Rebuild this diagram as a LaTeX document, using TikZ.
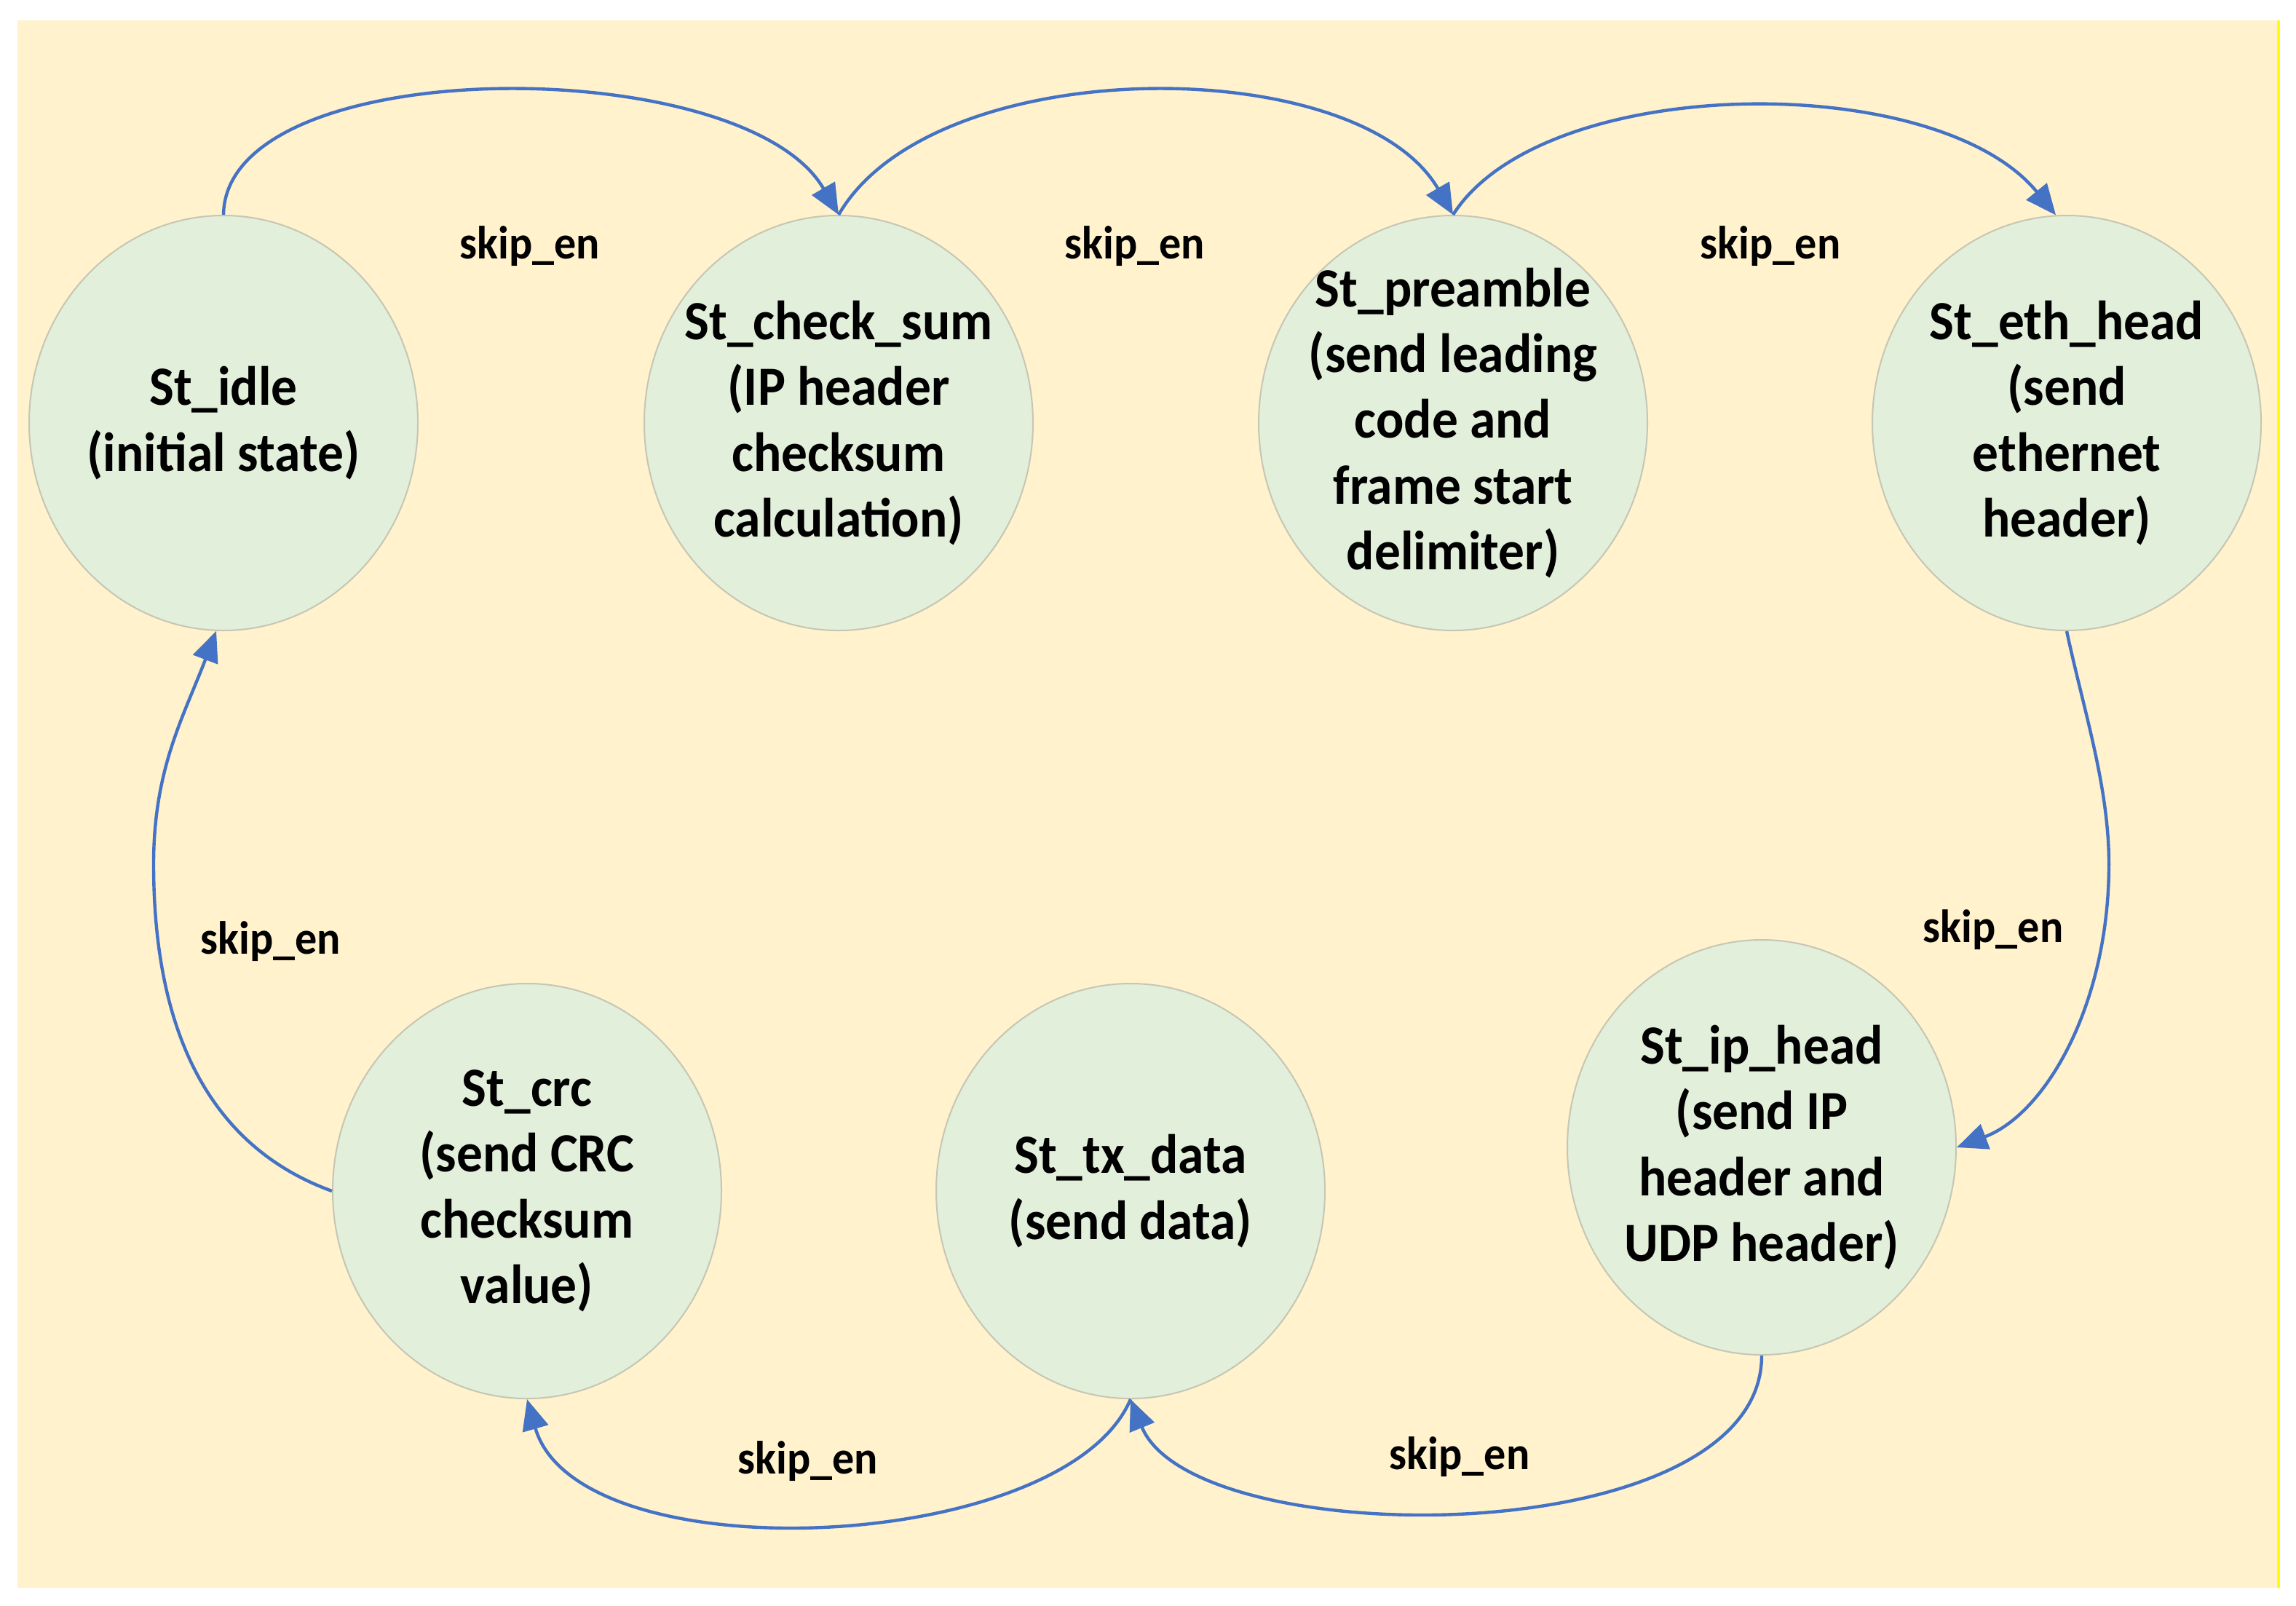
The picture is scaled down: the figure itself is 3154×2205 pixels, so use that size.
\documentclass[tikz,border=0pt]{standalone}
\usepackage{fontspec}
\setmainfont{Carlito}[FakeStretch=0.94]
\usetikzlibrary{shapes.geometric, arrows.meta}
\definecolor{bgyellow}{HTML}{FFF2CC}
\definecolor{stgreen}{HTML}{E2EFDA}
\definecolor{stedge}{HTML}{C6C6B4}
\definecolor{arrblue}{HTML}{4472C4}
\definecolor{edgeyellow}{HTML}{FFFF00}
\begin{document}
\begin{tikzpicture}[x=0.25pt, y=-0.25pt,
  state/.style={ellipse, draw=stedge, line width=0.5pt, fill=stgreen,
    minimum width=133.5pt, minimum height=142.5pt, inner sep=0pt},
  statetext/.style={align=center, inner sep=0pt,
    font=\fontsize{19}{22.6}\selectfont\bfseries},
  trans/.style={draw=arrblue, line width=1.1pt,
    -{Triangle[length=10.5pt, width=9pt]}},
  lbl/.style={inner sep=0pt, font=\fontsize{16}{19}\selectfont\bfseries}]
\useasboundingbox (0,0) rectangle (3154,2205);
\fill[bgyellow] (24,28) rectangle (3130,2181);
\draw[edgeyellow, line width=0.8pt] (3130,28) -- (3130,2181);

% states
\node[state] (idle) at (307,581) {};
\node[state] (cs)   at (1152,581) {};
\node[state] (pre)  at (1996,581) {};
\node[state] (eth)  at (2839,581) {};
\node[state] (ip)   at (2420,1576) {};
\node[state] (tx)   at (1553,1636) {};
\node[state] (crc)  at (724,1636) {};

\node[statetext] (idle-t) at (idle) {St\_idle\\(initial state)};
\node[statetext] (cs-t)   at (cs)   {St\_check\_sum\\(IP header\\checksum\\calculation)};
\node[statetext] (pre-t)  at (pre)  {St\_preamble\\(send leading\\code and\\frame start\\delimiter)};
\node[statetext] (eth-t)  at (eth)  {St\_eth\_head\\(send\\ethernet\\header)};
\node[statetext] (ip-t)   at (ip)   {St\_ip\_head\\(send IP\\header and\\UDP header)};
\node[statetext] (tx-t)   at (tx)   {St\_tx\_data\\(send data)};
\node[statetext] (crc-t)  at (crc)  {St\_crc\\(send CRC\\checksum\\value)};

% transitions
\draw[trans] (idle.north) .. controls (310,70) and (1022,70) .. (cs.north);
\draw[trans] (cs.north) .. controls (1282,70) and (1866,70) .. (pre.north);
\draw[trans] (pre.north) .. controls (2120,100) and (2660,95) .. (eth.93);
\draw[trans] (eth.south) .. controls (2862,975) and (2897,1080) .. (2897,1187)
  .. controls (2897,1380) and (2810,1530) .. (ip.east);
\draw[trans] (ip.south) .. controls (2420,2135) and (1640,2135) .. (tx.south);
\draw[trans] (tx.south) .. controls (1463,2135) and (794,2165) .. (crc.south);
\draw[trans] (crc.west) .. controls (269,1568) and (211,1387) .. (211,1187)
  .. controls (211,1056) and (252,985) .. (idle.268);

% labels
\node[lbl] (l1) at (728,338) {skip\_en};
\node[lbl] (l2) at (1559,338) {skip\_en};
\node[lbl] (l3) at (2432,338) {skip\_en};
\node[lbl] (l4) at (2738,1277) {skip\_en};
\node[lbl] (l5) at (2005,2001) {skip\_en};
\node[lbl] (l6) at (1110,2007) {skip\_en};
\node[lbl] (l7) at (372,1293) {skip\_en};
\end{tikzpicture}
\end{document}
